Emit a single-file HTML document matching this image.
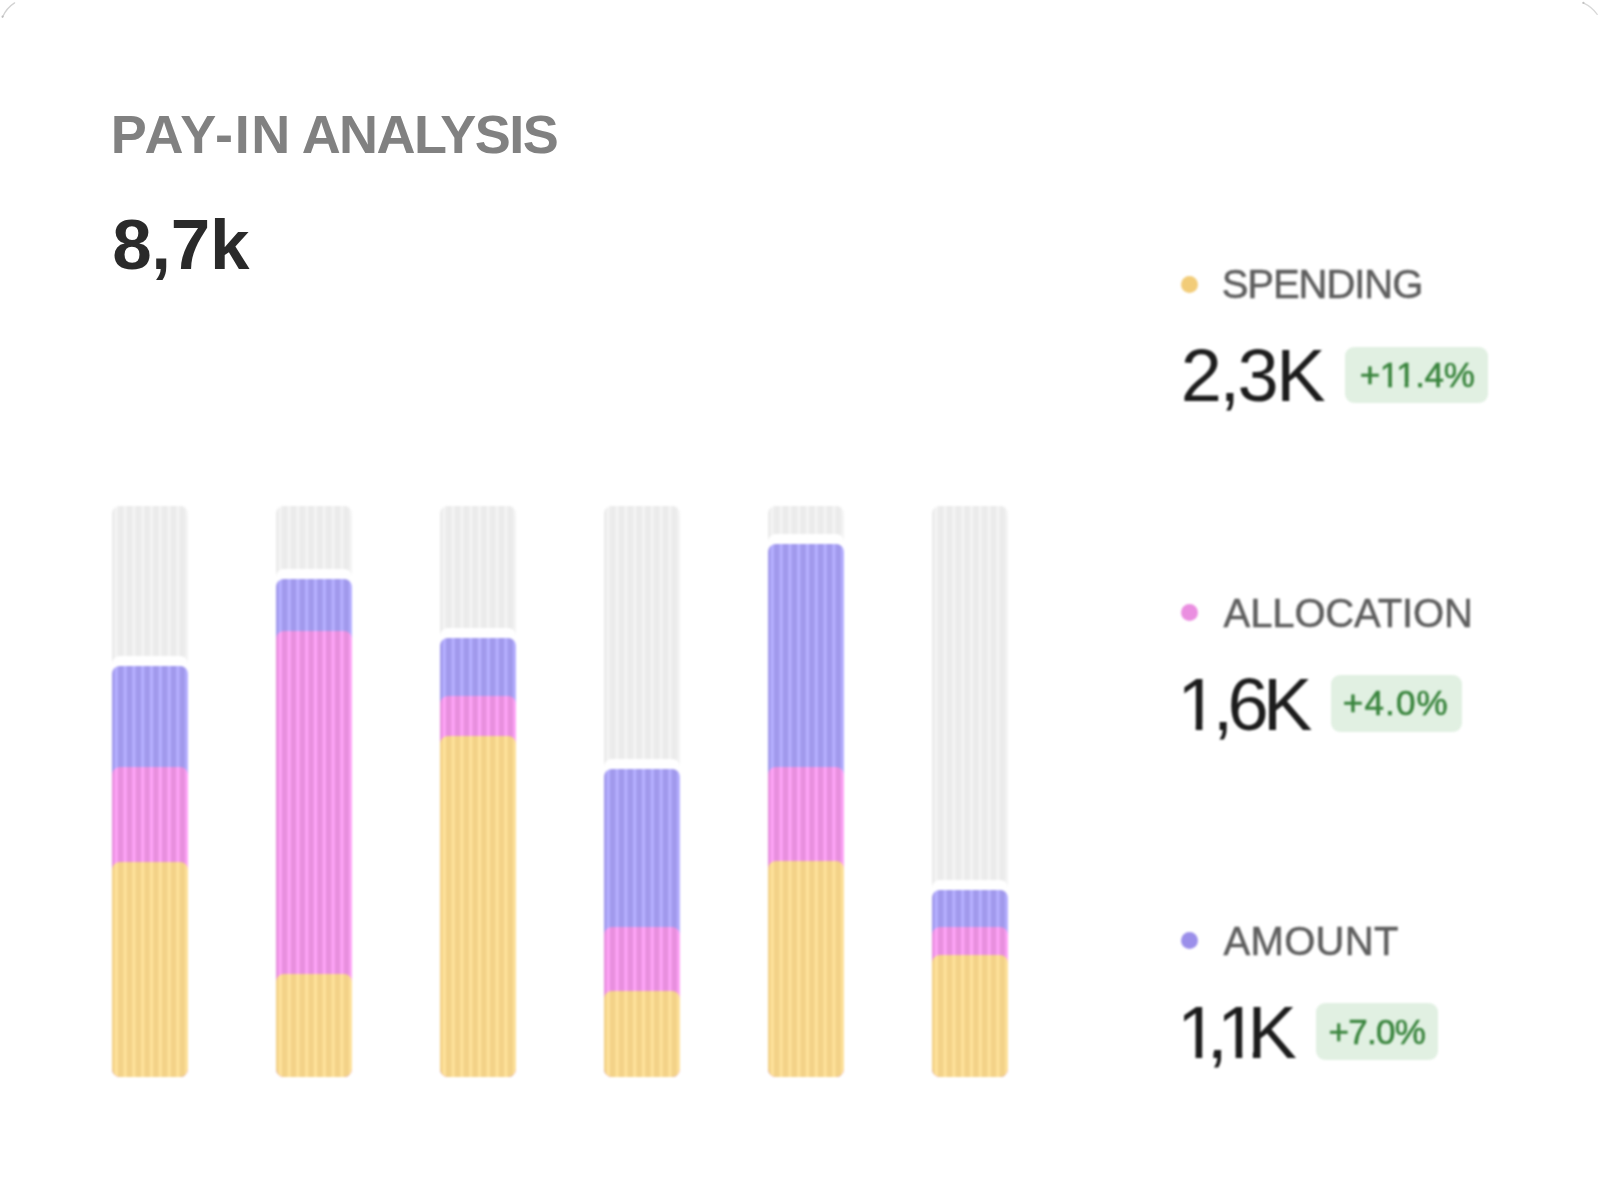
<!DOCTYPE html>
<html lang="en"><head><meta charset="utf-8"><title>Pay-in analysis</title>
<style>
html,body{margin:0;padding:0;background:#fff;}
body{width:1600px;height:1196px;position:relative;overflow:hidden;font-family:"Liberation Sans",sans-serif;}
.abs{position:absolute;white-space:nowrap;line-height:1;}
.title{font-weight:700;color:#818181;}
.total{font-weight:700;color:#2a2a2a;}
.bar{position:absolute;border-radius:8px;overflow:hidden;}
.seg{position:absolute;left:0;right:0;bottom:0;border-radius:8px 8px 0 0;}
.g{background:repeating-linear-gradient(90deg,#ebebeb 0,#ebebeb 2.1px,#f4f4f4 3.3px,#f4f4f4 5.3px,#ebebeb 6.5px,#ebebeb 8.8px);}
.p{background:repeating-linear-gradient(90deg,#a199ec 0,#a199ec 2.1px,#b6b0ff 3.3px,#b6b0ff 5.3px,#a199ec 6.5px,#a199ec 8.8px);}
.k{background:repeating-linear-gradient(90deg,#e88fde 0,#e88fde 2.1px,#fea5f7 3.3px,#fea5f7 5.3px,#e88fde 6.5px,#e88fde 8.8px);}
.y{background:repeating-linear-gradient(90deg,#f3d288 0,#f3d288 2.1px,#fee29b 3.3px,#fee29b 5.3px,#f3d288 6.5px,#f3d288 8.8px);}
.w{background:#fff;}
.dot{position:absolute;width:17px;height:17px;border-radius:50%;}
.lab{color:#5e5e5e;-webkit-text-stroke:0.5px #5e5e5e;}
.num{color:#1c1c1c;}
.badge{position:absolute;background:#e1f0e2;border-radius:9px;}
.pct{color:#3a853e;-webkit-text-stroke:0.6px #3a853e;}
.soft{filter:blur(1px);}
</style></head><body>
<div class="abs title" id="title" style="left:110.8px;top:106.7px;font-size:54px;letter-spacing:0px;word-spacing:-5.45px;"><span style="letter-spacing:1.7px">PAY-IN</span> <span style="letter-spacing:-1.58px">ANALYSIS</span></div>
<div class="abs total" id="total" style="left:112.2px;top:208.9px;font-size:71px;letter-spacing:-0.33px;">8,7k</div>
<div class="soft">
<div class="bar g" style="left:111.6px;top:505.7px;width:76.0px;height:571.3px"><div class="seg w" style="height:421.0px"></div><div class="seg p" style="height:411.0px"></div><div class="seg k" style="height:309.5px"></div><div class="seg y" style="height:215.0px"></div></div>
<div class="bar g" style="left:275.7px;top:505.7px;width:76.0px;height:571.3px"><div class="seg w" style="height:508.0px"></div><div class="seg p" style="height:498.0px"></div><div class="seg k" style="height:446.4px"></div><div class="seg y" style="height:103.3px"></div></div>
<div class="bar g" style="left:439.9px;top:505.7px;width:76.0px;height:571.3px"><div class="seg w" style="height:449.4px"></div><div class="seg p" style="height:439.4px"></div><div class="seg k" style="height:381.0px"></div><div class="seg y" style="height:341.4px"></div></div>
<div class="bar g" style="left:604.0px;top:505.7px;width:76.0px;height:571.3px"><div class="seg w" style="height:318.4px"></div><div class="seg p" style="height:308.4px"></div><div class="seg k" style="height:150.1px"></div><div class="seg y" style="height:85.7px"></div></div>
<div class="bar g" style="left:768.1px;top:505.7px;width:76.0px;height:571.3px"><div class="seg w" style="height:542.6px"></div><div class="seg p" style="height:532.6px"></div><div class="seg k" style="height:309.5px"></div><div class="seg y" style="height:215.8px"></div></div>
<div class="bar g" style="left:932.2px;top:505.7px;width:76.0px;height:571.3px"><div class="seg w" style="height:197.2px"></div><div class="seg p" style="height:187.2px"></div><div class="seg k" style="height:150.1px"></div><div class="seg y" style="height:122.0px"></div></div>
</div>
<div class="soft">
<div class="dot" style="left:1181.2px;top:276.2px;background:#f2cc78"></div><div class="abs lab" id="lab0" style="left:1221.7px;top:264.0px;font-size:40px;letter-spacing:-1.05px;">SPENDING</div><div class="abs num" id="num0" style="left:1180.8px;top:339.2px;font-size:74px;letter-spacing:-2.5px;">2,3K</div><div class="badge" style="left:1345.2px;top:346.5px;width:142.6px;height:56.9px"></div><div class="abs pct" id="pct0" style="left:1359.7px;top:356.8px;font-size:35px;letter-spacing:-0.4px;clip-path:path(evenodd,'M-30 -30H144.7V75.0H-30ZM21.50 25.82H28.48V31.23H21.50ZM32.28 25.82H44.95V31.23H32.28ZM48.74 25.82H55.46V31.23H48.74Z');">+11.4%</div>
<div class="dot" style="left:1181.2px;top:604.2px;background:#ea8ee0"></div><div class="abs lab" id="lab1" style="left:1223.6px;top:592.5px;font-size:40px;letter-spacing:-0.13px;">ALLOCATION</div><div class="abs num" id="num1" style="left:1177.2px;top:667.8px;font-size:74px;letter-spacing:-5.67px;clip-path:path(evenodd,'M-30 -30H159.6V114.0H-30ZM4.44 55.93H18.56V64.26H4.44ZM25.20 55.93H38.74V64.26H25.20Z');">1,6K</div><div class="badge" style="left:1330.9px;top:674.9px;width:131.0px;height:57.3px"></div><div class="abs pct" id="pct1" style="left:1342.8px;top:685.4px;font-size:35px;letter-spacing:1.15px;">+4.0%</div>
<div class="dot" style="left:1181.2px;top:932.2px;background:#9b8fea"></div><div class="abs lab" id="lab2" style="left:1223.6px;top:920.8px;font-size:40px;letter-spacing:0.3px;">AMOUNT</div><div class="abs num" id="num2" style="left:1177.0px;top:996.1px;font-size:74px;letter-spacing:-10.82px;clip-path:path(evenodd,'M-30 -30H139.0V114.0H-30ZM4.44 55.93H18.56V64.26H4.44ZM25.20 55.93H36.38V64.26H25.20ZM44.50 55.93H58.62V64.26H44.50ZM65.26 55.93H75.88V64.26H65.26Z');">1,1K</div><div class="badge" style="left:1316px;top:1002.9px;width:122.2px;height:57.3px"></div><div class="abs pct" id="pct2" style="left:1328.6px;top:1013.6px;font-size:35px;letter-spacing:-0.75px;">+7.0%</div>
</div>
<svg width="1600" height="24" viewBox="0 0 1600 24" style="position:absolute;left:0;top:0;filter:blur(0.6px)" aria-hidden="true"><path d="M2.4 17.2 Q6.5 8 14.6 2.9" fill="none" stroke="#d2d2d2" stroke-width="1.3" stroke-linecap="round"/><circle cx="2.6" cy="16.6" r="1.1" fill="#bdbdbd"/><path d="M1583.3 2.9 Q1592 7 1597.2 14.4" fill="none" stroke="#d8d8d8" stroke-width="1.3" stroke-linecap="round"/><circle cx="1583.4" cy="2.9" r="1.1" fill="#c2c2c2"/></svg>
</body></html>
